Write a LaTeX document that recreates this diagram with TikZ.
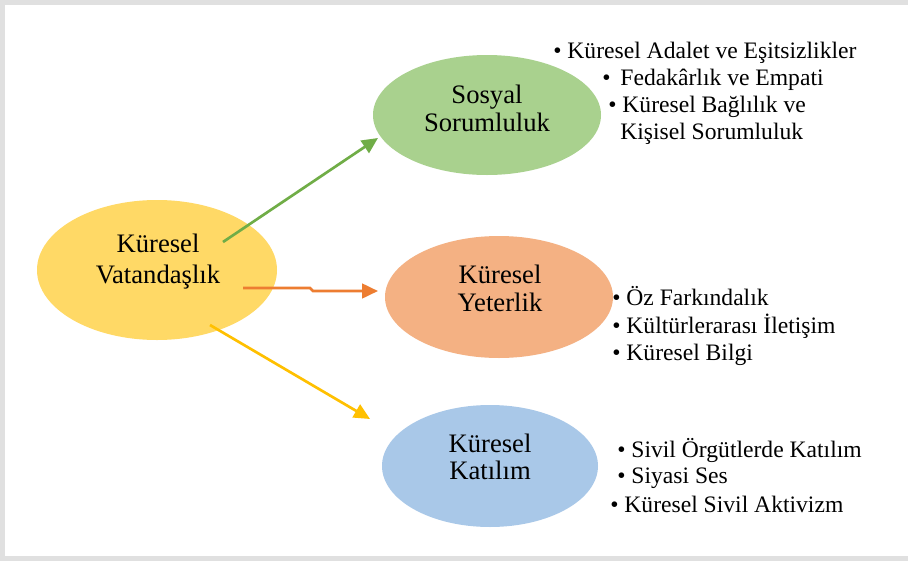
\documentclass[tikz,border=0pt]{standalone}
\usepackage{fontspec}
\setmainfont{Liberation Serif}
\usetikzlibrary{shapes.geometric,arrows.meta,calc}
\definecolor{cyel}{HTML}{FFD966}
\definecolor{cgrn}{HTML}{A9D18E}
\definecolor{corg}{HTML}{F4B183}
\definecolor{cblu}{HTML}{A9C8E8}
\definecolor{lgrn}{HTML}{70AD47}
\definecolor{lorg}{HTML}{ED7D31}
\definecolor{lyel}{HTML}{FFC000}
\definecolor{frame}{HTML}{E0E0E0}
\tikzset{
  ell/.style={ellipse, draw=none, inner sep=0pt},
  etxt/.style={anchor=base, inner sep=0pt, font=\fontsize{20pt}{23pt}\selectfont},
  btxt/.style={anchor=base west, inner sep=0pt, font=\fontsize{17.7pt}{20pt}\selectfont},
  conn/.style={line width=2pt, -{Triangle[length=12pt,width=11pt]}}
}
\begin{document}
\begin{tikzpicture}[x=0.75pt, y=-0.75pt]
\useasboundingbox (0,0) rectangle (908,561);
\fill[white] (0,0) rectangle (908,561);
\draw[frame, line width=3.2pt] (2.5,2.5) rectangle (950,558.5);
% ellipses
\node[ell, fill=cyel, minimum width=180pt, minimum height=105pt] (gv) at (157,270) {};
\node[ell, fill=cgrn, minimum width=171pt, minimum height=90pt] (sr) at (487,115) {};
\node[ell, fill=corg, minimum width=171pt, minimum height=91.5pt] (ky) at (499,297) {};
\node[ell, fill=cblu, minimum width=162pt, minimum height=91.5pt] (kt) at (490,466) {};
% ellipse texts
\node[etxt] (gv1) at (158,252) {Küresel};
\node[etxt] (gv2) at (158,283) {Vatandaşlık};
\node[etxt] (sr1) at (487,103) {Sosyal};
\node[etxt] (sr2) at (487,131) {Sorumluluk};
\node[etxt] (ky1) at (500,283) {Küresel};
\node[etxt] (ky2) at (500,311) {Yeterlik};
\node[etxt] (kt1) at (490,452) {Küresel};
\node[etxt] (kt2) at (490,479) {Katılım};
% connectors
\draw[conn, lgrn] ($(gv)+(66,-28)$) -- ($(sr)+(-109,23)$);
\draw[conn, lorg] ($(gv)+(86,18)$) -- ($(gv)+(153,18)$) -- ($(ky)+(-186,-6)$) -- ($(ky)+(-121,-6)$);
\draw[conn, lyel] ($(gv)+(53,55)$) -- ($(kt)+(-120,-47)$);
% bullet lists
\node[btxt] (a1) at (553,58) {• Küresel Adalet ve Eşitsizlikler};
\node[btxt] (a2) at (602,85) {•\hspace{0.42em}Fedakârlık ve Empati};
\node[btxt] (a3) at (608,112) {• Küresel Bağlılık ve};
\node[btxt] (a4) at (620,139) {Kişisel Sorumluluk};
\node[btxt] (b1) at (612,305) {• Öz Farkındalık};
\node[btxt] (b2) at (612,333) {• Kültürlerarası İletişim};
\node[btxt] (b3) at (612,360) {• Küresel Bilgi};
\node[btxt] (c1) at (617,457) {• Sivil Örgütlerde Katılım};
\node[btxt] (c2) at (617,483) {• Siyasi Ses};
\node[btxt] (c3) at (610,512) {• Küresel Sivil Aktivizm};
\end{tikzpicture}
\end{document}
